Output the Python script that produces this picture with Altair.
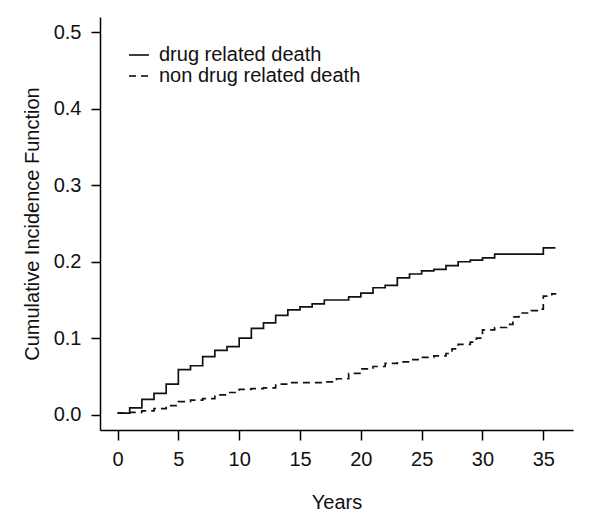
import altair as alt
import pandas as pd

# Drug related death (solid)
drug_t = [0, 1, 2, 3, 4, 5, 6, 7, 8, 9, 10, 11, 12, 13, 14, 15, 16, 17, 19, 20,
          21, 22, 23, 24, 25, 26, 27, 28, 29, 30, 31, 35, 36]
drug_v = [0.002, 0.009, 0.020, 0.028, 0.040, 0.059, 0.064, 0.076, 0.084, 0.089,
          0.100, 0.113, 0.120, 0.130, 0.137, 0.141, 0.145, 0.150, 0.154, 0.159,
          0.166, 0.169, 0.179, 0.184, 0.188, 0.190, 0.195, 0.200, 0.202, 0.205,
          0.210, 0.218, 0.218]

# Non drug related death (dashed)
non_t = [0, 1, 2, 3, 4, 5, 6, 7, 8, 9, 10, 11, 12, 13, 14, 17, 18, 19, 20, 21,
         22, 23, 24, 25, 26, 27, 27.5, 28, 29, 29.5, 30, 31, 32, 32.5, 33, 34,
         34.8, 35, 35.7, 36]
non_v = [0.002, 0.003, 0.005, 0.008, 0.012, 0.017, 0.019, 0.021, 0.026, 0.029,
         0.033, 0.034, 0.035, 0.040, 0.042, 0.043, 0.047, 0.054, 0.060, 0.063,
         0.067, 0.069, 0.072, 0.075, 0.077, 0.080, 0.086, 0.092, 0.095, 0.100,
         0.111, 0.114, 0.118, 0.128, 0.133, 0.136, 0.138, 0.155, 0.158, 0.159]

series_names = ["drug related death", "non drug related death"]
x_ticks = [0, 5, 10, 15, 20, 25, 30, 35]
y_ticks = [0.0, 0.1, 0.2, 0.3, 0.4, 0.5]

df = pd.concat([
    pd.DataFrame({"Years": drug_t, "CIF": drug_v, "series": series_names[0]}),
    pd.DataFrame({"Years": non_t, "CIF": non_v, "series": series_names[1]}),
])

FONT = "Liberation Sans"
FS = 20

chart = alt.Chart(df).mark_line(interpolate="step-after", strokeWidth=1.7, color="#111111").encode(
    x=alt.X("Years:Q",
            scale=alt.Scale(domain=[-1.44, 37.44], nice=False, zero=False),
            axis=alt.Axis(values=x_ticks, title="Years", grid=False, format="d",
                          tickSize=10, labelPadding=9, titlePadding=23)),
    y=alt.Y("CIF:Q",
            scale=alt.Scale(domain=[-0.02, 0.52], nice=False, zero=False),
            axis=alt.Axis(values=y_ticks, title="Cumulative Incidence Function", grid=False,
                          format=".1f", tickSize=9, labelPadding=10, titlePadding=11)),
    strokeDash=alt.StrokeDash("series:N",
                              scale=alt.Scale(domain=series_names, range=[[1, 0], [7, 5]]),
                              legend=alt.Legend(title=None, orient="none", legendX=28, legendY=27,
                                                symbolType="stroke", symbolSize=400,
                                                symbolStrokeColor="black", symbolStrokeWidth=1.5,
                                                labelFontSize=FS, labelFont=FONT, labelColor="#111111",
                                                labelLimit=0, labelOffset=9, rowPadding=-2, padding=0)),
).properties(
    width=473, height=413,
    autosize=alt.AutoSizeParams(type="none"),
    padding={"left": 92, "top": 9, "right": 19, "bottom": 93},
).configure_view(stroke=None).configure_axis(
    domainColor="black", domainWidth=1.5, tickColor="black", tickWidth=1.5,
    labelFont=FONT, titleFont=FONT, labelFontSize=FS, titleFontSize=FS,
    labelColor="#111111", titleColor="#111111", titleFontWeight="normal",
)

chart.save("out.html", embed_options={"renderer": "svg", "actions": False})
